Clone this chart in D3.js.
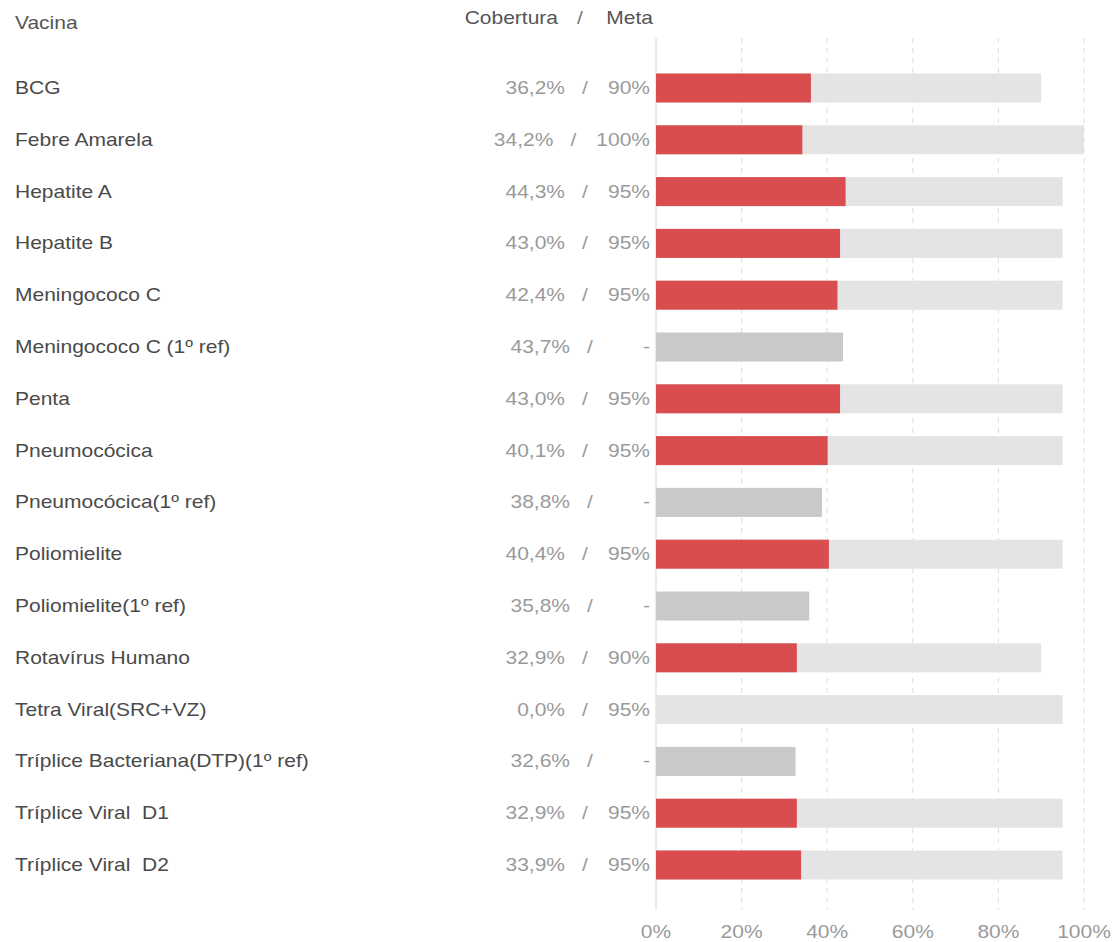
<!DOCTYPE html>
<html>
<head>
<meta charset="utf-8">
<script src="https://cdn.jsdelivr.net/npm/d3@7"></script>
<style>
  body { margin: 0; background: #fff; }
  text { font-family: "Liberation Sans", Arial, sans-serif; }
</style>
</head>
<body>
<div id="chart"></div>
<script>
// data
var vacinas = ["BCG", "Febre Amarela", "Hepatite A", "Hepatite B", "Meningococo C",
  "Meningococo C (1º ref)", "Penta", "Pneumocócica", "Pneumocócica(1º ref)", "Poliomielite",
  "Poliomielite(1º ref)", "Rotavírus Humano", "Tetra Viral(SRC+VZ)",
  "Tríplice Bacteriana(DTP)(1º ref)", "Tríplice Viral  D1", "Tríplice Viral  D2"];
var cobertura = [36.2, 34.2, 44.3, 43.0, 42.4, 43.7, 43.0, 40.1, 38.8, 40.4, 35.8, 32.9, 0.0, 32.6, 32.9, 33.9];
var meta = [90, 100, 95, 95, 95, null, 95, 95, null, 95, null, 90, 95, null, 95, 95];
var xTicks = [0, 20, 40, 60, 80, 100];

var svgWidth = 1112;
var svgHeight = 942;
var fontSize = 17.5;
var stretch = 1.2; // the reference text is drawn wide

var svg = d3.select("#chart").append("svg")
  .attr("width", svgWidth)
  .attr("height", svgHeight);

var x = d3.scaleLinear().domain([0, 100]).range([656, 1084]);
var y = d3.scaleBand().domain(vacinas).range([50.7, 902.3]).padding(0.44);

var fmt = (v) => v.toFixed(1).replace(".", ",") + "%";

// helper for wide text
function wideText(sel, px, py, anchor, fill, str) {
  return sel.append("text")
    .attr("transform", `translate(${px}, ${py}) scale(${stretch}, 1)`)
    .attr("text-anchor", anchor)
    .attr("fill", fill)
    .attr("font-size", fontSize)
    .attr("xml:space", "preserve")
    .style("white-space", "pre")
    .text(str);
}

// grid lines
svg.append("g").selectAll("line")
  .data(xTicks.slice(1))
  .enter().append("line")
  .attr("x1", (d) => x(d)).attr("x2", (d) => x(d))
  .attr("y1", 38).attr("y2", 910)
  .attr("stroke", "#dcdcdc")
  .attr("stroke-dasharray", "5,5");

// axis line at zero
svg.append("line")
  .attr("x1", x(0)).attr("x2", x(0))
  .attr("y1", 38).attr("y2", 910)
  .attr("stroke", "#d6d6d6");

// tick labels
var tickG = svg.append("g");
xTicks.forEach((t) => {
  wideText(tickG, x(t), 938, "middle", "#9a9a9a", t + "%");
});

var rows = vacinas.map((v, i) => ({ name: v, cob: cobertura[i], meta: meta[i] }));

// meta bars (background)
svg.append("g").selectAll("rect")
  .data(rows.filter((d) => d.meta !== null))
  .enter().append("rect")
  .attr("x", x(0))
  .attr("y", (d) => y(d.name))
  .attr("width", (d) => x(d.meta) - x(0))
  .attr("height", y.bandwidth())
  .attr("fill", "#e4e4e4");

// coverage bars
svg.append("g").selectAll("rect")
  .data(rows)
  .enter().append("rect")
  .attr("x", x(0))
  .attr("y", (d) => y(d.name))
  .attr("width", (d) => x(d.cob) - x(0))
  .attr("height", y.bandwidth())
  .attr("fill", (d) => d.meta === null ? "#c9c9c9" : "#d94d4f");

// row labels: "cob  /  meta" flows right-to-left from the axis
var labelG = svg.append("g");
rows.forEach((d) => {
  var cy = y(d.name) + y.bandwidth() / 2 + 6;
  wideText(labelG, 15, cy, "start", "#4a4a4a", d.name);
  var m = wideText(labelG, 650, cy, "end", "#9a9a9a", d.meta === null ? "-" : d.meta + "%");
  var w = d.meta === null ? 37 : m.node().getComputedTextLength() * stretch;
  var slashX = 650 - w - 23;
  wideText(labelG, slashX, cy, "middle", "#9a9a9a", "/");
  wideText(labelG, slashX - 20, cy, "end", "#9a9a9a", fmt(d.cob));
});

// headers
wideText(svg, 15, 29, "start", "#555", "Vacina");
wideText(svg, 558, 24, "end", "#555", "Cobertura");
wideText(svg, 580, 24, "middle", "#777", "/");
wideText(svg, 653, 24, "end", "#555", "Meta");
</script>
</body>
</html>
